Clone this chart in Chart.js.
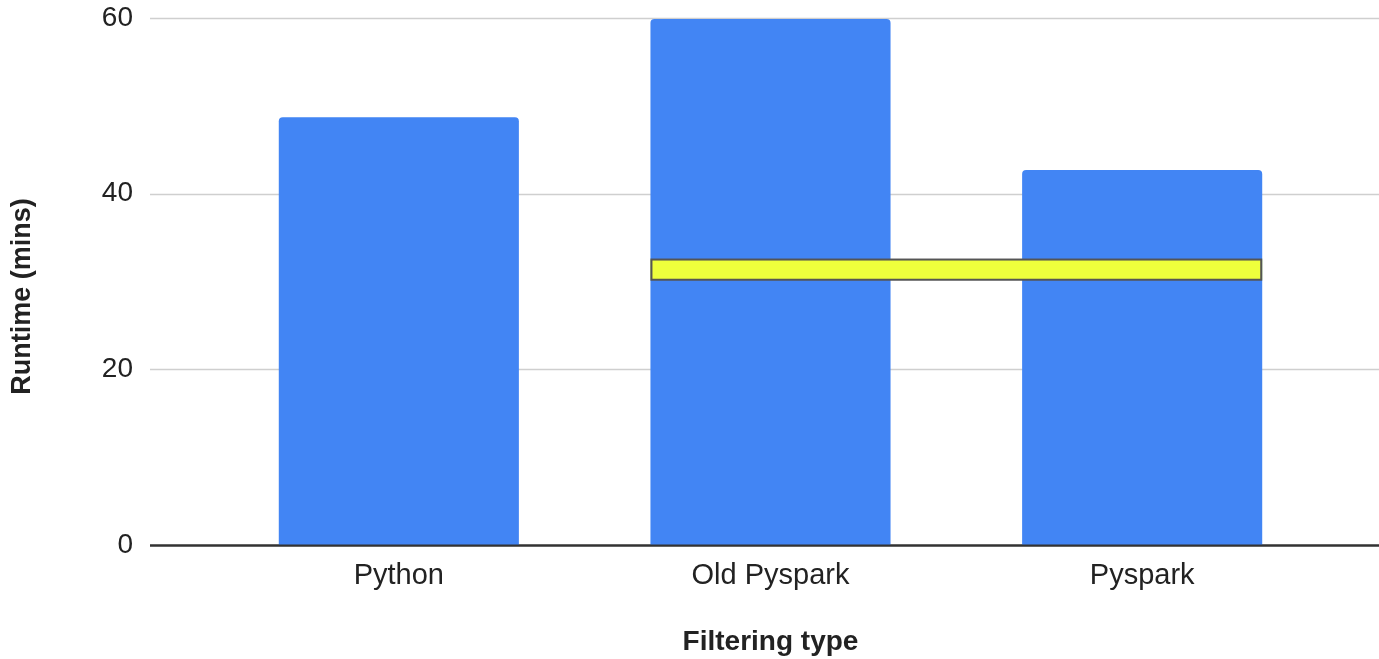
<!DOCTYPE html>
<html>
<head>
<meta charset="utf-8">
<title>Runtime by filtering type</title>
<script src="https://cdn.jsdelivr.net/npm/chart.js@4.4.0/dist/chart.umd.min.js"></script>
<style>
  html, body { margin:0; padding:0; background:#fff; }
  #wrap { width:1379px; height:659px; }
</style>
</head>
<body>
<div id="wrap"><canvas id="runtime"></canvas></div>
<script>
const categories = ['Python', 'Old Pyspark', 'Pyspark'];
const runtimeMins = [48.7, 59.9, 42.7];
const yTicks = [0, 20, 40, 60];

// highlighted band across the two Pyspark bars
const bandCategories = ['Old Pyspark', 'Pyspark'];
const bandRange = [30.2, 32.5];

const FONT = "'Liberation Sans', Arial, sans-serif";

// horizontal rules run wider than the category area
const wideGrid = {
  id: 'wideGrid',
  beforeDatasetsDraw(chart){
    const {ctx, scales:{y}} = chart;
    ctx.save();
    yTicks.forEach(v => {
      const py = Math.round(y.getPixelForValue(v)) + 0.5;
      ctx.beginPath();
      ctx.moveTo(150, py);
      ctx.lineTo(chart.width, py);
      ctx.lineWidth = v === 0 ? 2 : 1.5;
      ctx.strokeStyle = v === 0 ? '#333333' : '#cfcfcf';
      ctx.stroke();
    });
    ctx.restore();
  },
  afterDatasetsDraw(chart){
    // redraw the baseline over the bar bottoms
    const {ctx, scales:{y}} = chart;
    const py = Math.round(y.getPixelForValue(0)) + 0.5;
    ctx.save();
    ctx.beginPath();
    ctx.moveTo(150, py);
    ctx.lineTo(chart.width, py);
    ctx.lineWidth = 2;
    ctx.strokeStyle = '#333333';
    ctx.stroke();
    ctx.restore();
  }
};

const band = {
  id: 'band',
  afterDatasetsDraw(chart){
    const {ctx, scales:{y}} = chart;
    const bars = chart.getDatasetMeta(0).data;
    const a = bars[categories.indexOf(bandCategories[0])];
    const b = bars[categories.indexOf(bandCategories[1])];
    const x0 = a.x - a.width / 2;
    const x1 = b.x + b.width / 2;
    const top = y.getPixelForValue(bandRange[1]);
    const bot = y.getPixelForValue(bandRange[0]);
    ctx.save();
    ctx.fillStyle = '#eeff3c';
    ctx.fillRect(x0, top, x1 - x0, bot - top);
    ctx.lineWidth = 2;
    ctx.strokeStyle = '#555555';
    ctx.strokeRect(x0 + 1, top, x1 - x0 - 2, bot - top);
    ctx.restore();
  }
};

new Chart(document.getElementById('runtime'), {
  type: 'bar',
  data: {
    labels: categories,
    datasets: [{
      label: 'Runtime (mins)',
      data: runtimeMins,
      backgroundColor: '#4285f4',
      borderRadius: {topLeft:4, topRight:4, bottomLeft:0, bottomRight:0},
      borderSkipped: false,
      barPercentage: 0.646,
      categoryPercentage: 1
    }]
  },
  options: {
    responsive: true,
    maintainAspectRatio: false,
    animation: false,
    layout: { padding: { top:18, right:51, left:0, bottom:0 } },
    plugins: { legend:{ display:false }, tooltip:{ enabled:false } },
    scales: {
      x: {
        grid: { display:false, drawTicks:false },
        border: { display:false },
        ticks: { color:'#222', padding:14, font:{ family:FONT, size:29 } },
        title: { display:true, text:'Filtering type', color:'#222', padding:{ top:0, bottom:0 },
                 font:{ family:FONT, size:28, weight:'bold' } },
        afterFit(scale){ scale.height = 114; }
      },
      y: {
        min: 0, max: 60,
        afterBuildTicks(scale){ scale.ticks = yTicks.map(v => ({ value:v })); },
        grid: { display:false, drawTicks:false },
        border: { display:false },
        ticks: { color:'#222', padding:80, font:{ family:FONT, size:28 } },
        // trailing spaces nudge the rotated title down a little
        title: { display:true, text:'Runtime (mins)\u00a0\u00a0\u00a0\u00a0', color:'#222', padding:{ top:6, bottom:0 },
                 font:{ family:FONT, size:27, weight:'bold' } },
        afterFit(scale){
          // wide label gap shouldn't also pad the top/bottom of the plot
          scale.width = 213;
          scale.paddingTop = 16;
          scale.paddingBottom = 16;
        }
      }
    }
  },
  plugins: [wideGrid, band]
});
</script>
</body>
</html>
